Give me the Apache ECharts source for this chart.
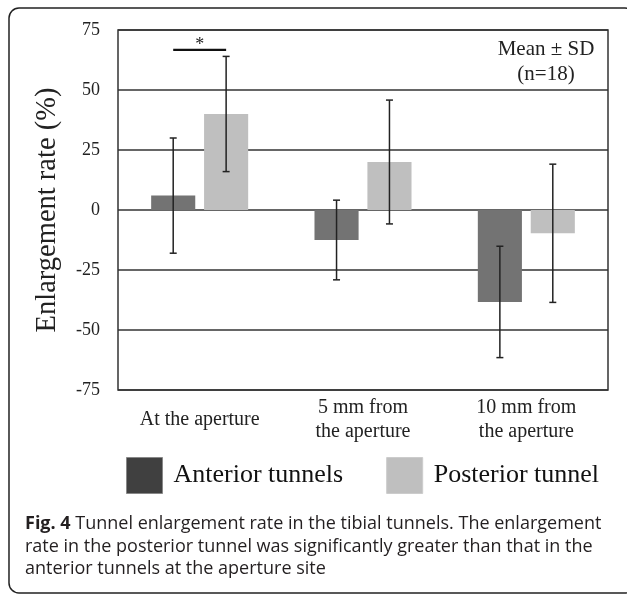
<!DOCTYPE html>
<html>
<head>
<meta charset="utf-8">
<script src="https://cdn.jsdelivr.net/npm/echarts@6/dist/echarts.min.js"></script>
<style>html,body{margin:0;padding:0;background:#fff;}#c{width:627px;height:595px;}</style>
</head>
<body>
<div id="c"></div>
<script>
const categories = ['At the aperture', '5 mm from\nthe aperture', '10 mm from\nthe aperture'];
const seriesNames = ['Anterior tunnels', 'Posterior tunnel'];
const anteriorMean = [6, -12.5, -38.3];
const anteriorSD = [24, 16.6, 23.2];
const posteriorMean = [40, 20, -9.7];
const posteriorSD = [24, 25.8, 28.8];
const yTicks = [-75, -50, -25, 0, 25, 50, 75];
const significance = [{cat: 0, y: 66.7, label: '*'}];

const SERIF = 'Liberation Serif';
const BAR_PCT = 0.27, GAP_PCT = 0.2;

function offsetFor(seriesIdx, band) {
  const bw = band * BAR_PCT;
  const step = bw * (1 + GAP_PCT);
  return seriesIdx === 0 ? -step / 2 : step / 2;
}

const errData = [];
anteriorMean.forEach((m, i) => errData.push([i, m, anteriorSD[i], 0]));
posteriorMean.forEach((m, i) => errData.push([i, m, posteriorSD[i], 1]));

const chart = echarts.init(document.getElementById('c'));
chart.setOption({
  animation: false,
  backgroundColor: '#fff',
  grid: {left: 118, right: 19, top: 30, bottom: 205, show: true, borderColor: '#333', borderWidth: 1.5, backgroundColor: 'transparent'},
  xAxis: {
    type: 'category', data: categories,
    axisLine: {show: false, onZero: false}, axisTick: {show: false},
    axisLabel: {color: '#222', fontFamily: SERIF, fontSize: 20, lineHeight: 24, verticalAlign: 'middle', margin: 30, interval: 0}
  },
  yAxis: {
    type: 'value', min: yTicks[0], max: yTicks[yTicks.length - 1], interval: 25,
    name: 'Enlargement rate (%)', nameLocation: 'middle', nameGap: 56,
    nameTextStyle: {color: '#222', fontFamily: SERIF, fontSize: 28.5},
    axisLine: {show: false}, axisTick: {show: false},
    axisLabel: {color: '#222', fontFamily: SERIF, fontSize: 18, margin: 18},
    splitLine: {show: true, lineStyle: {color: '#333', width: 1.5}}
  },
  legend: {
    left: 126, top: 457, padding: 0, itemWidth: 36, itemHeight: 36, itemGap: 43, icon: 'rect',
    textStyle: {color: '#111', fontFamily: SERIF, fontSize: 26, padding: [0, 0, 0, 6]},
    data: [
      {name: seriesNames[0], itemStyle: {color: '#404040', borderColor: '#888', borderWidth: 1}},
      {name: seriesNames[1], itemStyle: {color: '#bfbfbf', borderColor: '#ccc', borderWidth: 1}}
    ]
  },
  series: [
    {name: seriesNames[0], type: 'bar', data: anteriorMean, barWidth: (BAR_PCT * 100) + '%', barGap: (GAP_PCT * 100) + '%', itemStyle: {color: '#737373'}},
    {name: seriesNames[1], type: 'bar', data: posteriorMean, barWidth: (BAR_PCT * 100) + '%', itemStyle: {color: '#bfbfbf'}},
    {
      type: 'custom', data: errData, z: 10, silent: true,
      renderItem: function (params, api) {
        const cat = api.value(0), m = api.value(1), sd = api.value(2), s = api.value(3);
        const band = api.size([1, 0])[0];
        const off = offsetFor(s, band);
        const top = api.coord([cat, m + sd]);
        const bot = api.coord([cat, m - sd]);
        const x = top[0] + off;
        const cap = 3.5;
        const st = {stroke: '#222', lineWidth: 1.5};
        return {type: 'group', children: [
          {type: 'line', shape: {x1: x, y1: top[1], x2: x, y2: bot[1]}, style: st},
          {type: 'line', shape: {x1: x - cap, y1: top[1], x2: x + cap, y2: top[1]}, style: st},
          {type: 'line', shape: {x1: x - cap, y1: bot[1], x2: x + cap, y2: bot[1]}, style: st}
        ]};
      }
    },
    {
      type: 'custom', data: significance.map(d => [d.cat, d.y]), z: 10, silent: true,
      renderItem: function (params, api) {
        const cat = api.value(0), y = api.value(1);
        const band = api.size([1, 0])[0];
        const p = api.coord([cat, y]);
        const x1 = p[0] + offsetFor(0, band), x2 = p[0] + offsetFor(1, band);
        return {type: 'group', children: [
          {type: 'line', shape: {x1: x1, y1: p[1], x2: x2, y2: p[1]}, style: {stroke: '#111', lineWidth: 2.2}},
          {type: 'text', style: {text: significance[params.dataIndex].label, x: p[0], y: p[1] + 4, align: 'center', verticalAlign: 'bottom', fontFamily: SERIF, fontSize: 18, fill: '#222'}}
        ]};
      }
    }
  ],
  graphic: [
    {type: 'rect', shape: {x: 9, y: 8, width: 626, height: 585, r: 10}, style: {fill: 'none', stroke: '#222', lineWidth: 1.5}, z: 100},
    {type: 'text', style: {text: 'Mean ± SD\n(n=18)', x: 546, y: 37, align: 'center', fontFamily: SERIF, fontSize: 21, lineHeight: 25, fill: '#222'}},
    {type: 'text', style: {
      text: '{b|Fig. 4} Tunnel enlargement rate in the tibial tunnels. The enlargement\nrate in the posterior tunnel was significantly greater than that in the\nanterior tunnels at the aperture site',
      x: 25, y: 513, fontFamily: 'Open Sans', fontSize: 18, lineHeight: 22.5, fill: '#231f20',
      rich: {b: {fontFamily: 'Open Sans', fontWeight: 'bold', fontSize: 18, fill: '#231f20'}}
    }}
  ]
});
</script>
</body>
</html>
